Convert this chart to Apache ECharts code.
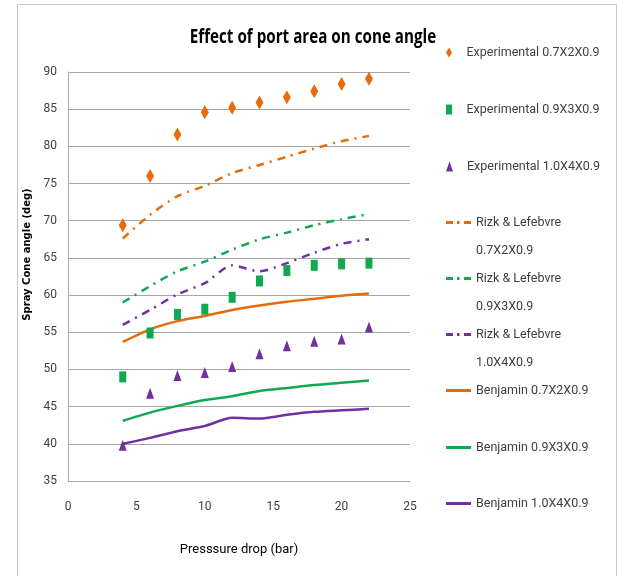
<!DOCTYPE html>
<html>
<head>
<meta charset="utf-8">
<script src="https://cdn.jsdelivr.net/npm/echarts@6/dist/echarts.min.js"></script>
<style>
  html, body { margin: 0; padding: 0; background: #fff; }
  #chart { width: 617px; height: 576px; }
</style>
</head>
<body>
<div id="chart"></div>
<script>
// Pressure drop (bar) at which each measurement / prediction was taken
var pressure = [4, 6, 8, 10, 12, 14, 16, 18, 20, 22];

// Measured spray cone angles (deg)
var exp07 = [69.4, 76.0, 81.6, 84.6, 85.2, 85.9, 86.6, 87.4, 88.4, 89.1];
var exp09 = [49.0, 54.9, 57.4, 58.1, 59.7, 61.9, 63.3, 64.0, 64.2, 64.3];
var exp10 = [39.8, 46.8, 49.2, 49.6, 50.4, 52.1, 53.2, 53.8, 54.1, 55.7];

// Rizk & Lefebvre correlation
var rizk07 = [67.6, 70.8, 73.3, 74.7, 76.4, 77.5, 78.6, 79.7, 80.7, 81.4];
var rizk09 = [59.0, 61.2, 63.2, 64.5, 66.1, 67.5, 68.4, 69.4, 70.2, 70.9];
var rizk10 = [56.0, 58.0, 60.1, 61.6, 64.0, 63.2, 64.3, 65.7, 66.9, 67.5];

// Benjamin correlation
var benj07 = [53.7, 55.4, 56.5, 57.2, 58.0, 58.6, 59.1, 59.5, 59.9, 60.2];
var benj09 = [43.1, 44.2, 45.1, 45.9, 46.4, 47.1, 47.5, 47.9, 48.2, 48.5];
var benj10 = [40.0, 40.8, 41.7, 42.4, 43.5, 43.4, 43.9, 44.3, 44.5, 44.7];

var seriesNames = [
  'Experimental 0.7X2X0.9', 'Experimental 0.9X3X0.9', 'Experimental 1.0X4X0.9',
  'Rizk & Lefebvre 0.7X2X0.9', 'Rizk & Lefebvre 0.9X3X0.9', 'Rizk & Lefebvre 1.0X4X0.9',
  'Benjamin 0.7X2X0.9', 'Benjamin 0.9X3X0.9', 'Benjamin 1.0X4X0.9'
];

var ORANGE = '#E46C0A', GREEN = '#12A852', PURPLE = '#7030A0';
var NARROW = "Roboto, 'Open Sans', sans-serif";
var DASH_DOT = [8, 6, 2, 6];

function pairs(ys) {
  return pressure.map(function (x, i) { return [x, ys[i]]; });
}

// marker and legend icon shapes
var diamondIcon = 'path://M3,0 L6,5 L3,10 L0,5 Z';
var rectIcon = 'path://M0,0 L6,0 L6,10 L0,10 Z';
var triIcon = 'path://M3.5,0 L7,10 L0,10 Z';
var dashDotIcon = 'path://M0,0 H7 V3 H0 Z M11,0 H13.5 V3 H11 Z M18,0 H25 V3 H18 Z';
var solidIcon = 'path://M0,0 H25 V3 H0 Z';

function scatter(name, ys, color, symbol, size) {
  return {
    name: name, type: 'scatter', data: pairs(ys),
    symbol: symbol, symbolSize: size,
    itemStyle: { color: color, opacity: 1 }, z: 5
  };
}
function line(name, ys, color, dash) {
  return {
    name: name, type: 'line', data: pairs(ys), smooth: 0.25,
    showSymbol: false, symbol: 'none',
    lineStyle: { color: color, width: 2.5, type: dash || 'solid' },
    itemStyle: { color: color }
  };
}

var series = [
  scatter(seriesNames[0], exp07, ORANGE, diamondIcon, [8, 14]),
  scatter(seriesNames[1], exp09, GREEN, 'rect', [7, 11]),
  scatter(seriesNames[2], exp10, PURPLE, 'triangle', [8, 11]),
  line(seriesNames[3], rizk07, ORANGE, DASH_DOT),
  line(seriesNames[4], rizk09, GREEN, DASH_DOT),
  line(seriesNames[5], rizk10, PURPLE, DASH_DOT),
  line(seriesNames[6], benj07, ORANGE),
  line(seriesNames[7], benj09, GREEN),
  line(seriesNames[8], benj10, PURPLE)
];

// Legend rows: one legend block per entry, stacked down the right side
var legendRowY = [51, 108, 165, 221, 277, 333, 389, 446, 502];
var legendLabel = [
  seriesNames[0], seriesNames[1], seriesNames[2],
  'Rizk & Lefebvre', 'Rizk & Lefebvre', 'Rizk & Lefebvre',
  seriesNames[6], seriesNames[7], seriesNames[8]
];
var legendIcons = [diamondIcon, rectIcon, triIcon,
  dashDotIcon, dashDotIcon, dashDotIcon, solidIcon, solidIcon, solidIcon];

var legends = seriesNames.map(function (name, i) {
  return {
    data: [name],
    icon: legendIcons[i],
    left: 446, top: legendRowY[i] - 5,
    itemWidth: 25, itemHeight: 10, itemGap: 0,
    selectedMode: false,
    padding: 0,
    formatter: (function (lbl) { return function () { return lbl; }; })(legendLabel[i]),
    textStyle: { fontFamily: NARROW, fontSize: 12.5, color: '#404040' }
  };
});

// second line of the two-line Rizk & Lefebvre legend entries
var rizkSuffix = ['0.7X2X0.9', '0.9X3X0.9', '1.0X4X0.9'];
var graphics = [{
  type: 'rect', left: 15, top: 2,
  shape: { width: 599, height: 572 },
  style: { fill: 'none', stroke: '#C6C6C6', lineWidth: 1 }, silent: true
}, {
  // chart title, set in a condensed bold face
  type: 'text', x: 313, y: 38, scaleX: 0.8,
  style: {
    text: 'Effect of port area on cone angle',
    font: "bold 19px 'Open Sans', sans-serif", fill: '#000',
    textAlign: 'center', textVerticalAlign: 'middle'
  }
}];
rizkSuffix.forEach(function (t, k) {
  graphics.push({
    type: 'text', x: 476, y: legendRowY[3 + k] + 30,
    style: { text: t, font: '12.5px ' + NARROW, fill: '#404040', textVerticalAlign: 'middle' }
  });
});

var chart = echarts.init(document.getElementById('chart'), null, { renderer: 'canvas' });
chart.setOption({
  animation: false,
  backgroundColor: '#ffffff',
  grid: { left: 68, right: 207, top: 72, bottom: 95, containLabel: false },
  xAxis: {
    type: 'value', min: 0, max: 25, interval: 5,
    name: 'Presssure drop (bar)', nameLocation: 'middle', nameGap: 62,
    nameTextStyle: { fontFamily: NARROW, fontSize: 13, color: '#000' },
    axisLine: { show: true, lineStyle: { color: '#A6A6A6' } },
    axisTick: { show: false },
    splitLine: { show: false },
    axisLabel: { margin: 20, fontFamily: NARROW, fontSize: 12, color: '#404040' }
  },
  yAxis: {
    type: 'value', min: 35, max: 90, interval: 5,
    name: 'Spray Cone angle (deg)', nameLocation: 'middle', nameGap: 33,
    nameTextStyle: { fontFamily: "'DejaVu Sans', sans-serif", fontWeight: 'bold', fontSize: 10, color: '#000', padding: [0, 0, 0, 44] },
    axisLine: { show: true, lineStyle: { color: '#A6A6A6' } },
    axisTick: { show: false },
    splitLine: { show: true, lineStyle: { color: '#A6A6A6', width: 1 } },
    axisLabel: { margin: 11, fontFamily: NARROW, fontSize: 12, color: '#404040' }
  },
  legend: legends,
  graphic: graphics,
  series: series
});
</script>
</body>
</html>
